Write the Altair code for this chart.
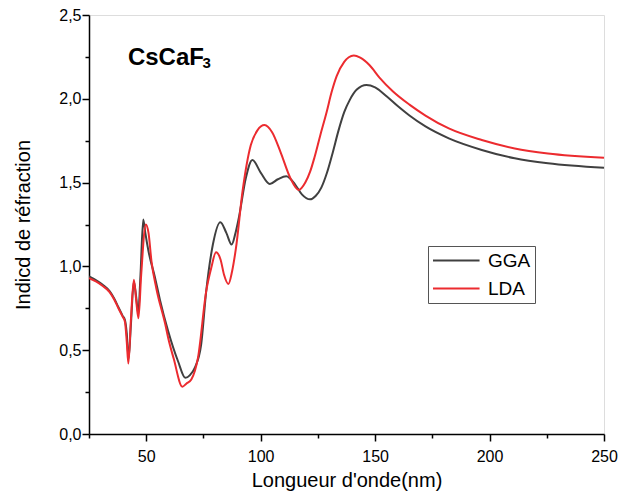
import altair as alt
import pandas as pd

gga_x = [25, 28, 31, 34, 36, 37.8, 39.7, 40.7, 41.5, 42.3, 43.3, 44.6, 45.6, 46.5, 47.5, 48.7, 49.6, 51,
         53.9, 56, 59.6, 63.9, 67.1, 69, 71.2, 74, 76.2, 79.1, 82.4, 85, 87.3, 89, 90.6, 93.5,
         96.4, 100, 104, 107.5, 111.2, 115, 118, 121.6, 124, 126.5, 129, 131.5, 134, 136.5, 139,
         142, 146.2, 150, 155, 160, 165, 172, 182.2, 196.6, 211, 225.5, 250]
gga_y = [0.94, 0.918, 0.89, 0.852, 0.808, 0.758, 0.705, 0.68, 0.60, 0.45, 0.65, 0.91, 0.82, 0.72, 0.95, 1.28, 1.20, 1.09,
         0.93, 0.80, 0.613, 0.434, 0.335, 0.35, 0.395, 0.534, 0.851, 1.129, 1.264, 1.20, 1.13, 1.20, 1.30, 1.526,
         1.635, 1.56, 1.492, 1.52, 1.538, 1.49, 1.43, 1.40, 1.42, 1.47, 1.56, 1.68, 1.81, 1.92, 1.995,
         2.055, 2.082, 2.068, 2.015, 1.955, 1.90, 1.835, 1.764, 1.695, 1.645, 1.615, 1.588]

lda_x = [25, 28, 31, 34, 36, 37.8, 39.7, 40.7, 41.5, 42.2, 43.3, 44.6, 45.6, 46.6, 47.8, 49.8, 51, 52.3,
         54.4, 58.4, 59.6, 62, 65.8, 67.5, 69.7, 72.6, 76.2, 78.4, 80.5, 82.5, 84, 85.9, 87.5, 89.2,
         92.1, 95.7, 98.5, 101.7, 105, 108.6, 113, 116.6, 119.5, 121.6, 123.5, 126, 128.8, 131, 133.2,
         136.5, 138.5, 140.7, 143.5, 147.6, 152, 157.7, 165, 172, 182.2, 196.6, 211, 225.5, 250]
lda_y = [0.93, 0.91, 0.883, 0.847, 0.803, 0.752, 0.70, 0.67, 0.55, 0.42, 0.68, 0.92, 0.80, 0.69, 0.95, 1.25, 1.20, 1.03,
         0.87, 0.65, 0.573, 0.45, 0.282, 0.30, 0.325, 0.454, 0.851, 0.99, 1.085, 1.04, 0.95, 0.895, 0.97, 1.109,
         1.45, 1.724, 1.81, 1.843, 1.80, 1.685, 1.526, 1.456, 1.50, 1.565, 1.65, 1.78, 1.92, 2.04, 2.135,
         2.22, 2.248, 2.258, 2.245, 2.20, 2.125, 2.045, 1.965, 1.90, 1.823, 1.754, 1.704, 1.674, 1.649]

series = ["GGA", "LDA"]
colors = ["#404040", "#ec2b2f"]

x_ticks = [25, 50, 75, 100, 125, 150, 175, 200, 225, 250]
y_ticks = [0.0, 0.25, 0.5, 0.75, 1.0, 1.25, 1.5, 1.75, 2.0, 2.25, 2.5]

df = pd.concat([
    pd.DataFrame({"x": gga_x, "y": gga_y, "s": "GGA"}),
    pd.DataFrame({"x": lda_x, "y": lda_y, "s": "LDA"}),
])

FONT = "Liberation Sans"

xaxis = alt.Axis(
    values=x_ticks, title="Longueur d'onde(nm)", grid=False,
    labelExpr="datum.value % 50 == 0 && datum.value > 25 ? format(datum.value, 'd') : ''",
    tickSize={"condition": {"test": "datum.value % 50 == 0", "value": 7}, "value": 4},
    labelFontSize=16, titleFontSize=20, labelPadding=7, titlePadding=6,
    labelFont=FONT, titleFont=FONT, titleFontWeight="normal",
    domainColor="black", tickColor="black", domainWidth=1.5, tickWidth=1.5,
    labelColor="black", titleColor="black", labelFlush=False, labelOverlap=False,
)
yaxis = alt.Axis(
    values=y_ticks, title="Indicd de réfraction", grid=False,
    labelExpr="(datum.value * 2) % 1 == 0 ? replace(format(datum.value, '.1f'), '.', ',') : ''",
    tickSize={"condition": {"test": "(datum.value * 2) % 1 == 0", "value": 7}, "value": 4},
    labelFontSize=16, titleFontSize=20, labelPadding=1, titlePadding=25,
    labelFont=FONT, titleFont=FONT, titleFontWeight="normal",
    domainColor="black", tickColor="black", domainWidth=1.5, tickWidth=1.5,
    labelColor="black", titleColor="black", labelFlush=False, labelOverlap=False,
)

lines = alt.Chart(df).mark_line(strokeWidth=2, interpolate="monotone", clip=True).encode(
    x=alt.X("x:Q", scale=alt.Scale(domain=[25, 250], nice=False, zero=False), axis=xaxis),
    y=alt.Y("y:Q", scale=alt.Scale(domain=[0, 2.5], nice=False), axis=yaxis),
    color=alt.Color("s:N", scale=alt.Scale(domain=series, range=colors), legend=alt.Legend(
        title=None, orient="none", legendX=339, legendY=231,
        symbolType="M-1,0H3.9", symbolSize=361, symbolStrokeWidth=2,
        labelFontSize=19, labelFont=FONT, labelColor="black",
        strokeColor="#555555", padding=4, rowPadding=7, labelOffset=35,
    )),
    detail="s:N",
)

title_df = pd.DataFrame({"x": [42.0], "y": [2.202], "t": ["CsCaF"]})
sub_df = pd.DataFrame({"x": [74.6], "y": [2.182], "t": ["3"]})

title_main = alt.Chart(title_df).mark_text(
    font=FONT, fontSize=24, fontWeight="bold", align="left", baseline="alphabetic", color="black"
).encode(x="x:Q", y="y:Q", text="t:N")
title_sub = alt.Chart(sub_df).mark_text(
    font=FONT, fontSize=15, fontWeight="bold", align="left", baseline="alphabetic", color="black"
).encode(x="x:Q", y="y:Q", text="t:N")

chart = alt.layer(lines, title_main, title_sub).properties(
    width=515, height=419,
    autosize=alt.AutoSizeParams(type="none"),
    padding={"left": 81, "top": 7, "right": 14, "bottom": 60},
).configure_view(stroke="black", strokeWidth=1.5).configure(background="white")

chart.save("out.html", embed_options={"renderer": "svg", "actions": False})
